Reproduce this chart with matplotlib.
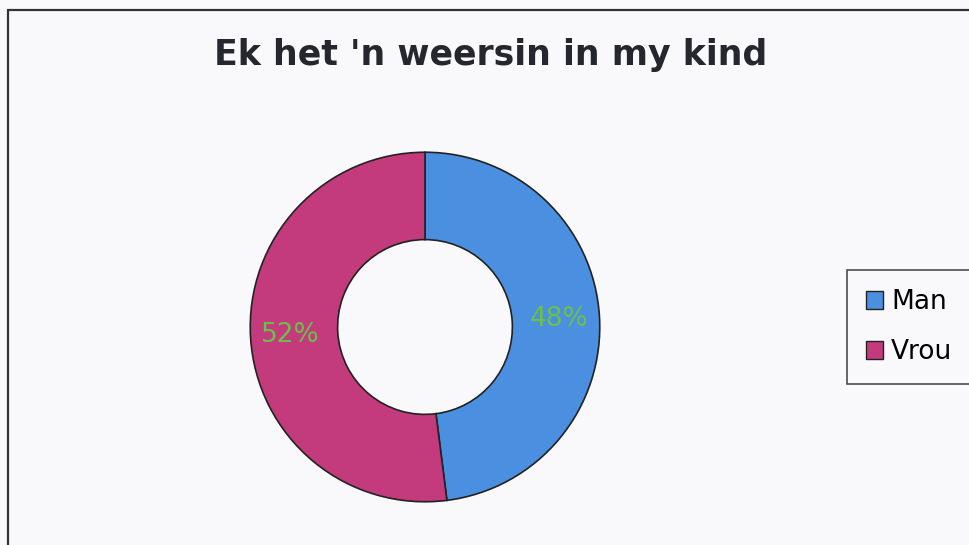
import matplotlib.pyplot as plt
from matplotlib.patches import Rectangle, Patch

labels = ["Man", "Vrou"]
values = [48, 52]
colors = ["#4a8fe0", "#c33b7c"]

fig = plt.figure(figsize=(9.69, 5.45), dpi=100)
fig.patch.set_facecolor("#f9f9fc")

# chart frame (runs off the right and bottom edge)
fig.patches.append(Rectangle((8 / 969, -0.05), 1.0, 1 - 10 / 545 + 0.05,
                             transform=fig.transFigure, fill=False,
                             edgecolor="#333333", linewidth=1.6))

ax = fig.add_axes([(425 - 180) / 969, (545 - 327 - 180) / 545, 360 / 969, 360 / 545])
wedges, texts, autotexts = ax.pie(
    values, colors=colors, startangle=90, counterclock=False,
    radius=1.0, autopct="%1.0f%%", pctdistance=0.77,
    wedgeprops=dict(width=0.5, edgecolor="#222222", linewidth=1.2),
    textprops=dict(color="#6cbf4a", fontsize=19, family="DejaVu Sans"),
)
ax.set_xlim(-1.03, 1.03)
ax.set_ylim(-1.03, 1.03)
ax.set_aspect("equal")
ax.axis("off")

fig.text(491 / 969, 1 - 55 / 545, "Ek het 'n weersin in my kind", ha="center", va="center",
         fontsize=25, fontweight="bold", color="#26262e", family="DejaVu Sans")

handles = [Patch(facecolor=c, edgecolor="#222222", label=l) for c, l in zip(colors, labels)]
leg = fig.legend(handles=handles, loc="upper left", bbox_to_anchor=(847 / 969, 1 - 270 / 545),
                 borderaxespad=0, frameon=True, fancybox=False, edgecolor="#222222",
                 handlelength=0.65, handleheight=0.65, handletextpad=0.3,
                 labelspacing=0.91, borderpad=0.72,
                 prop=dict(family="DejaVu Sans", size=19))
leg.get_frame().set_linewidth(1.2)
leg.get_frame().set_facecolor("#f9f9fc")

fig.savefig("out.png", dpi=100, facecolor=fig.get_facecolor())
